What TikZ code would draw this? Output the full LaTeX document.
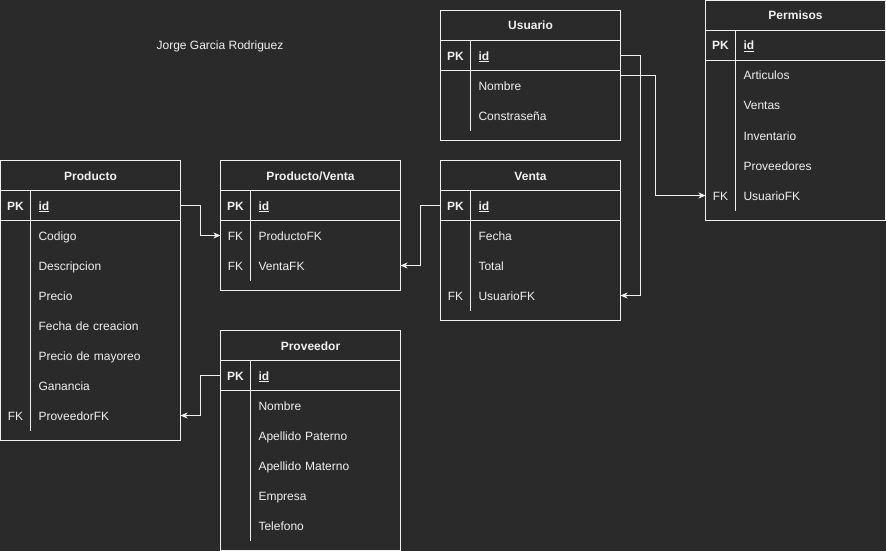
\documentclass[tikz,border=0pt]{standalone}
\usepackage{fontspec}
\setmainfont{Liberation Sans}
\usepackage{xcolor}
\usepackage{tikz}
\usetikzlibrary{arrows.meta, positioning}
\definecolor{bgdark}{HTML}{2A2A2A}
\definecolor{fg}{HTML}{F0F0F0}

\begin{document}
\begin{tikzpicture}[
    x=1pt, y=-1pt, line width=1pt,
    every node/.style={inner sep=0pt, outer sep=0pt, text=fg, font=\fontsize{12}{14}\selectfont, text height=9pt, text depth=0pt},
    head/.style={draw=fg, minimum width=180pt, minimum height=30pt, font=\fontsize{12}{14}\selectfont\bfseries},
    key/.style={minimum width=30pt, minimum height=30pt},
    pk/.style={key, font=\fontsize{12}{14}\selectfont\bfseries},
    field/.style={minimum height=30pt, text width=134pt, inner xsep=8pt, align=left},
    line/.style={draw=fg},
    fk/.style={draw=fg, -{Stealth[length=7pt, width=6pt, inset=2pt]}}
  ]
  \fill[bgdark] (0,0) rectangle (886,551);

  \node (autor) at (220,45) {Jorge Garcia Rodriguez};

  % Producto
  \node[head] (prod) at (90.5,175.5) {Producto};
  \node[pk, anchor=north west] (prod-pk) at (prod.south west) {PK};
  \node[field, right=0pt of prod-pk] (prod-id) {\bfseries\underline{id}};
  \node[field, below=0pt of prod-id] (prod-cod) {Codigo};
  \node[field, below=0pt of prod-cod] (prod-desc) {Descripcion};
  \node[field, below=0pt of prod-desc] (prod-pre) {Precio};
  \node[field, below=0pt of prod-pre] (prod-fec) {Fecha de creacion};
  \node[field, below=0pt of prod-fec] (prod-may) {Precio de mayoreo};
  \node[field, below=0pt of prod-may] (prod-gan) {Ganancia};
  \node[field, below=0pt of prod-gan] (prod-prov) {ProveedorFK};
  \node[key, left=0pt of prod-prov] (prod-fk) {FK};
  \draw[line] (prod.south west) rectangle ([yshift=-10pt]prod-prov.south east);
  \draw[line] (prod-pk.south west) -- (prod-id.south east);
  \draw[line] (prod-id.north west) -- (prod-prov.south west);

  % Producto/Venta
  \node[head] (pv) at (310.5,175.5) {Producto/Venta};
  \node[pk, anchor=north west] (pv-pk) at (pv.south west) {PK};
  \node[field, right=0pt of pv-pk] (pv-id) {\bfseries\underline{id}};
  \node[field, below=0pt of pv-id] (pv-prod) {ProductoFK};
  \node[field, below=0pt of pv-prod] (pv-venta) {VentaFK};
  \node[key, left=0pt of pv-prod] (pv-fk1) {FK};
  \node[key, left=0pt of pv-venta] (pv-fk2) {FK};
  \draw[line] (pv.south west) rectangle ([yshift=-10pt]pv-venta.south east);
  \draw[line] (pv-pk.south west) -- (pv-id.south east);
  \draw[line] (pv-id.north west) -- (pv-venta.south west);

  % Venta
  \node[head] (ven) at (530.5,175.5) {Venta};
  \node[pk, anchor=north west] (ven-pk) at (ven.south west) {PK};
  \node[field, right=0pt of ven-pk] (ven-id) {\bfseries\underline{id}};
  \node[field, below=0pt of ven-id] (ven-fec) {Fecha};
  \node[field, below=0pt of ven-fec] (ven-tot) {Total};
  \node[field, below=0pt of ven-tot] (ven-usr) {UsuarioFK};
  \node[key, left=0pt of ven-usr] (ven-fk) {FK};
  \draw[line] (ven.south west) rectangle ([yshift=-10pt]ven-usr.south east);
  \draw[line] (ven-pk.south west) -- (ven-id.south east);
  \draw[line] (ven-id.north west) -- (ven-usr.south west);

  % Usuario
  \node[head] (usr) at (530.5,25.5) {Usuario};
  \node[pk, anchor=north west] (usr-pk) at (usr.south west) {PK};
  \node[field, right=0pt of usr-pk] (usr-id) {\bfseries\underline{id}};
  \node[field, below=0pt of usr-id] (usr-nom) {Nombre};
  \node[field, below=0pt of usr-nom] (usr-con) {Constraseña};
  \draw[line] (usr.south west) rectangle ([yshift=-10pt]usr-con.south east);
  \draw[line] (usr-pk.south west) -- (usr-id.south east);
  \draw[line] (usr-id.north west) -- (usr-con.south west);

  % Permisos
  \node[head] (per) at (795.5,15.5) {Permisos};
  \node[pk, anchor=north west] (per-pk) at (per.south west) {PK};
  \node[field, right=0pt of per-pk] (per-id) {\bfseries\underline{id}};
  \node[field, below=0pt of per-id] (per-art) {Articulos};
  \node[field, below=0pt of per-art] (per-ven) {Ventas};
  \node[field, below=0pt of per-ven] (per-inv) {Inventario};
  \node[field, below=0pt of per-inv] (per-prov) {Proveedores};
  \node[field, below=0pt of per-prov] (per-usr) {UsuarioFK};
  \node[key, left=0pt of per-usr] (per-fk) {FK};
  \draw[line] (per.south west) rectangle ([yshift=-10pt]per-usr.south east);
  \draw[line] (per-pk.south west) -- (per-id.south east);
  \draw[line] (per-id.north west) -- (per-usr.south west);

  % Proveedor
  \node[head] (prov) at (310.5,345.5) {Proveedor};
  \node[pk, anchor=north west] (prov-pk) at (prov.south west) {PK};
  \node[field, right=0pt of prov-pk] (prov-id) {\bfseries\underline{id}};
  \node[field, below=0pt of prov-id] (prov-nom) {Nombre};
  \node[field, below=0pt of prov-nom] (prov-pat) {Apellido Paterno};
  \node[field, below=0pt of prov-pat] (prov-mat) {Apellido Materno};
  \node[field, below=0pt of prov-mat] (prov-emp) {Empresa};
  \node[field, below=0pt of prov-emp] (prov-tel) {Telefono};
  \draw[line] (prov.south west) rectangle ([yshift=-10pt]prov-tel.south east);
  \draw[line] (prov-pk.south west) -- (prov-id.south east);
  \draw[line] (prov-id.north west) -- (prov-tel.south west);

  % relaciones
  \draw[fk] (prod-id.east) -- ++(20,0) |- (pv-fk1.west);
  \draw[fk] (ven-pk.west) -- ++(-20,0) |- (pv-venta.east);
  \draw[fk] (usr-id.east) -- ++(20,0) |- (ven-usr.east);
  \draw[fk] ([yshift=10pt]usr-nom.east) -- ++(35,0) |- (per-fk.west);
  \draw[fk] (prov-pk.west) -- ++(-20,0) |- (prod-prov.east);
\end{tikzpicture}
\end{document}
